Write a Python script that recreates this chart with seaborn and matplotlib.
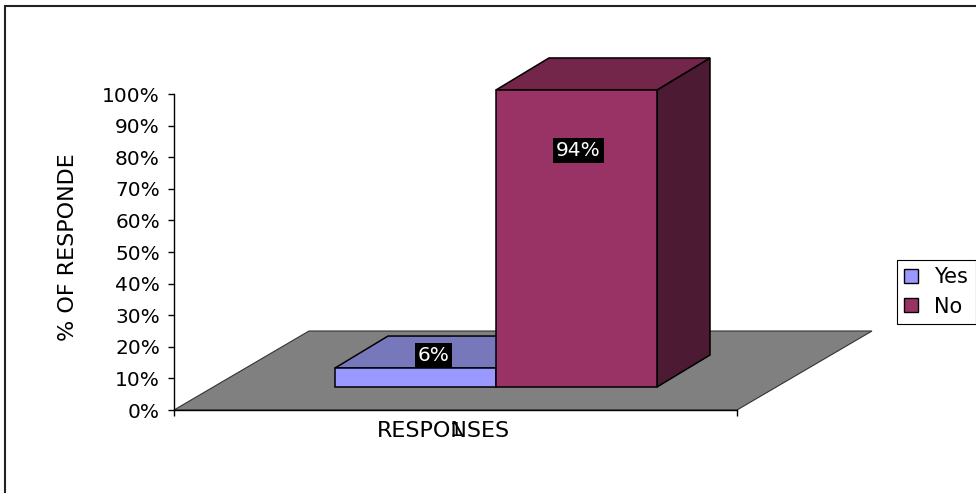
import numpy as np
import pandas as pd
import matplotlib
matplotlib.use("Agg")
import matplotlib.pyplot as plt
import matplotlib.transforms as mtransforms
from matplotlib.patches import Polygon, Rectangle, Patch
import seaborn as sns

# ---- data ----
categories = ["1"]
series = ["Yes", "No"]
values = [0.06, 0.94]
value_labels = ["6%", "94%"]
y_ticks = [0.0, 0.1, 0.2, 0.3, 0.4, 0.5, 0.6, 0.7, 0.8, 0.9, 1.0]
y_tick_labels = ["0%", "10%", "20%", "30%", "40%", "50%", "60%", "70%", "80%", "90%", "100%"]

# ---- styling ----
front_colors = ["#9999FF", "#993366"]
top_colors = ["#7777BB", "#732649"]
side_colors = ["#4D4D80", "#4C1A33"]
floor_color = "#808080"

# pseudo-3D geometry, in pixels
FLOOR_DEPTH = np.array([135.0, 79.0])
BAR_FRONT = np.array([40.0, 23.0])
BAR_DEPTH = np.array([53.0, 32.0])
LABEL_OFFSETS_PX = [(18, 13), (2, -61)]

df = pd.DataFrame({
    "category": categories * len(series),
    "series": series,
    "share": values,
})

sns.set_style("white")
plt.rcParams["font.family"] = ["DejaVu Sans"]
plt.rcParams["text.color"] = "black"
plt.rcParams["axes.labelcolor"] = "black"
TICK_FS = 14.5
LABEL_FS = 16
LEGEND_FS = 15
VALUE_FS = 14.5

W, H, DPI = 976, 493, 100
fig = plt.figure(figsize=(W / DPI, H / DPI), dpi=DPI)
fig.patch.set_facecolor("white")
ax = fig.add_axes([174 / W, (H - 410) / H, (737 - 174) / W, (410 - 94) / H])
ax.patch.set_alpha(0)

sns.barplot(data=df, x="category", y="share", hue="series", hue_order=series,
            palette=front_colors, width=0.8, saturation=1, legend=False,
            edgecolor="black", linewidth=1.1, ax=ax)
ax.set_xlim(-0.7006, 0.6981)
ax.set_ylim(0, 1)

ident = mtransforms.IdentityTransform()
shift = ax.transData + mtransforms.ScaledTranslation(
    BAR_FRONT[0] / DPI, BAR_FRONT[1] / DPI, fig.dpi_scale_trans)


def px(x, y):
    return ax.transData.transform((x, y))


bars = sorted(list(ax.patches), key=lambda p: p.get_x())

# floor
x0, x1 = ax.get_xlim()
fl, fr = px(x0, 0), px(x1, 0)
floor = Polygon([fl, fr, fr + FLOOR_DEPTH, fl + FLOOR_DEPTH], closed=True,
                facecolor=floor_color, edgecolor="#333333", linewidth=0.8,
                transform=ident, clip_on=False, zorder=1)
ax.add_patch(floor)

# bars: front faces from seaborn, extruded with top and side faces
for i, bar in enumerate(bars):
    z = 2 + i
    bar.set_transform(shift)
    bar.set_clip_on(False)
    bar.set_zorder(z + 0.2)
    bx0, bx1, h = bar.get_x(), bar.get_x() + bar.get_width(), bar.get_height()
    tl, tr = px(bx0, h) + BAR_FRONT, px(bx1, h) + BAR_FRONT
    br = px(bx1, 0) + BAR_FRONT
    side = Polygon([tr, br, br + BAR_DEPTH, tr + BAR_DEPTH], closed=True,
                   facecolor=side_colors[i], edgecolor="black", linewidth=1.1,
                   transform=ident, clip_on=False, zorder=z)
    top = Polygon([tl, tr, tr + BAR_DEPTH, tl + BAR_DEPTH], closed=True,
                  facecolor=top_colors[i], edgecolor="black", linewidth=1.1,
                  transform=ident, clip_on=False, zorder=z + 0.1)
    ax.add_patch(side)
    ax.add_patch(top)
    dx, dy = LABEL_OFFSETS_PX[i]
    ax.annotate(value_labels[i], xy=((bx0 + bx1) / 2, h), xycoords=shift,
                xytext=(dx * 72 / DPI, dy * 72 / DPI), textcoords="offset points",
                ha="center", va="center", color="white", fontsize=VALUE_FS,
                bbox=dict(boxstyle="square,pad=0.15", facecolor="black", edgecolor="none"),
                zorder=10, annotation_clip=False)

# axes
for s in ["top", "right"]:
    ax.spines[s].set_visible(False)
for s in ["left", "bottom"]:
    ax.spines[s].set_color("black")
    ax.spines[s].set_linewidth(1.0)
    ax.spines[s].set_zorder(6)

ax.set_yticks(y_ticks, y_tick_labels)
ax.tick_params(axis="y", left=True, direction="out", length=6 * 0.72, width=1,
               pad=8 * 0.72, labelsize=TICK_FS, colors="black")
ax.set_xticks([0], categories)
ax.set_xticks([x0, x1], minor=True)
ax.tick_params(axis="x", which="major", bottom=True, length=0, pad=8,
               labelsize=TICK_FS, labelcolor="black")
ax.tick_params(axis="x", which="minor", bottom=True, length=6 * 0.72, width=1,
               color="black")

ax.set_xlabel("RESPONSES", fontsize=LABEL_FS, va="top")
ax.xaxis.set_label_coords((443 - 174) / (737 - 174), -11 / 316)
ax.set_ylabel("% OF RESPONDE", fontsize=LABEL_FS)
ax.yaxis.set_label_coords((78 - 174) / (737 - 174), (410 - 247) / 316)

# legend
handles = [Patch(facecolor=c, edgecolor="black", linewidth=1) for c in front_colors]
leg = fig.legend(handles, series, loc="upper left",
                 bbox_to_anchor=(897 / W, (H - 260) / H), frameon=True,
                 fancybox=False, edgecolor="black", framealpha=1, fontsize=LEGEND_FS,
                 handlelength=0.65, handleheight=0.65, handletextpad=0.8,
                 borderpad=0.35, labelspacing=0.45, borderaxespad=0)
leg.get_frame().set_linewidth(0.8)

# chart frame (only its top and left edges fall inside the canvas)
fig.add_artist(Rectangle((5 / W, -0.5), 2.0, (H - 6) / H + 0.5,
                         transform=fig.transFigure, fill=False,
                         edgecolor="#222222", linewidth=1.5))

fig.savefig("out.png", dpi=DPI, facecolor="white")
